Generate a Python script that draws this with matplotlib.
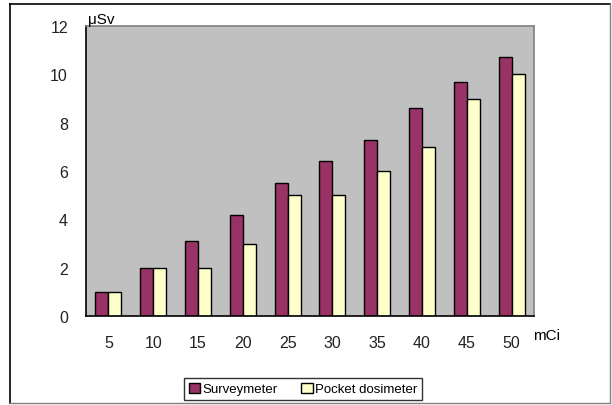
import numpy as np
import matplotlib
matplotlib.use('Agg')
import matplotlib.pyplot as plt

activity = [5, 10, 15, 20, 25, 30, 35, 40, 45, 50]
surveymeter = [1, 2, 3.1, 4.2, 5.5, 6.4, 7.3, 8.6, 9.7, 10.7]
pocket = [1, 2, 2, 3, 5, 5, 6, 7, 9, 10]
yticks = [0, 2, 4, 6, 8, 10, 12]

plt.rcParams['font.family'] = ['Liberation Sans', 'DejaVu Sans']

fig = plt.figure(figsize=(6.12, 4.06), dpi=100)
ax = fig.add_axes([86 / 612, 1 - 317 / 406, 448 / 612, 290 / 406])
ax.set_facecolor('#c0c0c0')

x = np.arange(len(activity))
w = 0.29
ax.bar(x - w / 2, surveymeter, w, color='#993366', edgecolor='black',
       linewidth=1.0, label='Surveymeter')
ax.bar(x + w / 2, pocket, w, color='#ffffcc', edgecolor='black',
       linewidth=1.0, label='Pocket dosimeter')

ax.set_xlim(-0.5, len(activity) - 0.5)
ax.set_ylim(0, 12)
ax.set_yticks(yticks)
ax.set_xticks(x)
ax.set_xticklabels([str(a) for a in activity])
ax.tick_params(length=0, labelsize=11.5, colors='#222222')
ax.tick_params(axis='y', pad=13)
ax.tick_params(axis='x', pad=14)

for side in ['top', 'right']:
    ax.spines[side].set_color('#808080')
    ax.spines[side].set_linewidth(1.2)
for side in ['left', 'bottom']:
    ax.spines[side].set_color('black')
    ax.spines[side].set_linewidth(1.2)

fig.text(88 / 612, 1 - 20 / 406, 'μSv', fontsize=11, va='center', ha='left')
fig.text(533 / 612, 1 - 336 / 406, 'mCi', fontsize=11, va='center', ha='left')

leg = fig.legend(loc='center', bbox_to_anchor=(303 / 612, 1 - 390 / 406),
                 ncol=2, fontsize=9.5, frameon=True, fancybox=False,
                 handlelength=0.85, handleheight=0.85, handletextpad=0.2,
                 columnspacing=1.8, borderpad=0.35, borderaxespad=0)
leg.get_frame().set_edgecolor('black')
leg.get_frame().set_linewidth(1.0)

# outer chart border
fig.add_artist(plt.Line2D([10 / 612, 10 / 612], [1 - 5 / 406, 1 - 404 / 406],
                          color='black', linewidth=1.2, transform=fig.transFigure))
fig.add_artist(plt.Line2D([10 / 612, 610 / 612], [1 - 5 / 406, 1 - 5 / 406],
                          color='black', linewidth=1.2, transform=fig.transFigure))
fig.add_artist(plt.Line2D([610 / 612, 610 / 612], [1 - 5 / 406, 1 - 404 / 406],
                          color='#808080', linewidth=1.0, transform=fig.transFigure))
fig.add_artist(plt.Line2D([10 / 612, 610 / 612], [1 - 404 / 406, 1 - 404 / 406],
                          color='#808080', linewidth=1.0, transform=fig.transFigure))

fig.savefig('out.png', dpi=100)
